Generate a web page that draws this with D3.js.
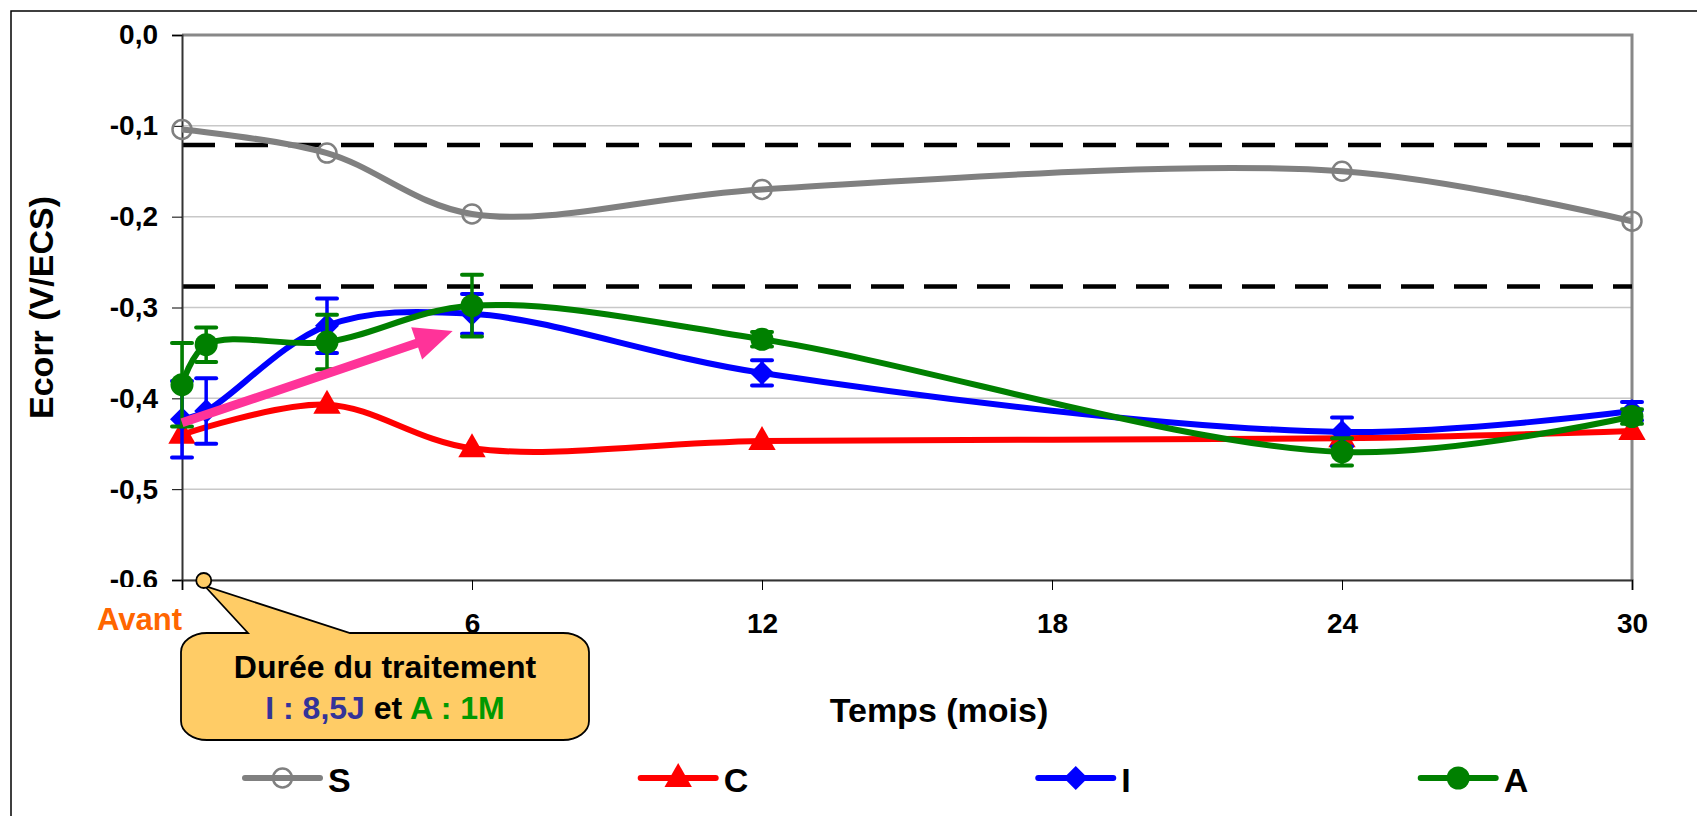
<!DOCTYPE html>
<html>
<head>
<meta charset="utf-8">
<script src="https://cdn.jsdelivr.net/npm/d3@7"></script>
<style>
body { margin: 0; background: #fff; }
text { font-family: "Liberation Sans", Arial, sans-serif; font-weight: bold; }
</style>
</head>
<body>
<svg id="chart"></svg>
<script>
// Months (x) - first point is "Avant"
var monthsIA = [0, 0.5, 3, 6, 12, 24, 30]
var monthsSC = [0, 3, 6, 12, 24, 30]

// Ecorr values (V/ECS)
var sValues = [-0.104, -0.130, -0.197, -0.170, -0.150, -0.205]
var cValues = [-0.440, -0.407, -0.455, -0.447, -0.444, -0.436]
var iValues = [-0.423, -0.414, -0.320, -0.307, -0.372, -0.437, -0.414]
var iErrors = [0.042, 0.036, 0.030, 0.022, 0.014, 0.016, 0.010]
var aValues = [-0.385, -0.341, -0.338, -0.298, -0.335, -0.459, -0.420]
var aErrors = [0.046, 0.019, 0.030, 0.034, 0.008, 0.015, 0.008]

// Reference levels (dashed)
var refLevels = [-0.121, -0.277]

// Ticks
var xTicks = [0, 6, 12, 18, 24, 30]
var yTicks = [0, -0.1, -0.2, -0.3, -0.4, -0.5, -0.6]

// Trend arrow, in data units [month, value]
var arrowFrom = [0, -0.427]
var arrowTo = [5.6, -0.326]

var legendNames = ["S", "C", "I", "A"]

var width = 1697
var height = 816

var svg = d3.select("#chart").attr("width", width).attr("height", height)

var x = d3.scaleLinear().domain([0, 30]).range([182, 1632])
var y = d3.scaleLinear().domain([-0.6, 0]).range([580, 35])

// outer frame (right and bottom fall outside the picture)
svg.append("rect")
    .attr("x", 11).attr("y", 11)
    .attr("width", width + 20).attr("height", height + 20)
    .attr("fill", "none").attr("stroke", "#000").attr("stroke-width", 1.5)

// gridlines
svg.append("g").selectAll("line")
    .data(yTicks)
    .enter().append("line")
    .attr("x1", x(0)).attr("x2", x(30))
    .attr("y1", d => y(d)).attr("y2", d => y(d))
    .style("stroke", "#c8c8c8").style("stroke-width", 1.5)

// plot border top / right
svg.append("path")
    .attr("d", "M" + x(0) + "," + y(0) + "H" + x(30) + "V" + y(-0.6))
    .attr("fill", "none").attr("stroke", "#888").attr("stroke-width", 3)

// dashed reference levels
svg.append("g").selectAll("line")
    .data(refLevels)
    .enter().append("line")
    .attr("x1", x(0)).attr("x2", x(30))
    .attr("y1", d => y(d)).attr("y2", d => y(d))
    .style("stroke", "#000").style("stroke-width", 4.5)
    .style("stroke-dasharray", "33,20")

// axes
var fmt = d => d.toFixed(1).replace(".", ",")
var yAxis = svg.append("g")
    .attr("transform", "translate(" + x(0) + ",0)")
    .call(d3.axisLeft(y).tickValues(yTicks).tickFormat(fmt).tickSize(10).tickPadding(14))
var xAxis = svg.append("g")
    .attr("transform", "translate(0," + y(-0.6) + ")")
    .call(d3.axisBottom(x).tickValues(xTicks).tickFormat(d => d === 0 ? "" : d).tickSize(10).tickPadding(23))

;[yAxis, xAxis].forEach(function(ax) {
    ax.select(".domain").attr("stroke", "#333").attr("stroke-width", 2)
    ax.selectAll(".tick line").attr("stroke", "#000").attr("stroke-width", 1)
    ax.selectAll("text").attr("fill", "#000")
        .style("font-size", "28px")
        .style("font-family", "'Liberation Sans', Arial, sans-serif")
        .style("font-weight", "bold")
})

// "Avant" box hides the lower part of the -0,6 label
svg.append("rect")
    .attr("x", 86).attr("y", 587).attr("width", 94).attr("height", 50)
    .attr("fill", "#fff")
svg.append("text")
    .attr("x", x(0)).attr("y", 630)
    .attr("text-anchor", "end")
    .style("font-size", "31px").attr("fill", "#ff6600")
    .text("Avant")

// axis titles
svg.append("text")
    .attr("transform", "translate(53," + y(-0.3) + ") rotate(-90)")
    .attr("text-anchor", "middle")
    .style("font-size", "34px")
    .text("Ecorr (V/ECS)")
svg.append("text")
    .attr("x", 939).attr("y", 722)
    .attr("text-anchor", "middle")
    .style("font-size", "34px")
    .text("Temps (mois)")

// series
var series = [
    {name: "S", xs: monthsSC, ys: sValues, err: null, color: "#808080", marker: "ring"},
    {name: "C", xs: monthsSC, ys: cValues, err: null, color: "#ff0000", marker: "triangle"},
    {name: "I", xs: monthsIA, ys: iValues, err: iErrors, color: "#0000ff", marker: "diamond"},
    {name: "A", xs: monthsIA, ys: aValues, err: aErrors, color: "#008000", marker: "circle"}
]

var line = d3.line()
    .x(d => x(d[0]))
    .y(d => y(d[1]))
    .curve(d3.curveCatmullRom.alpha(0.5))

function drawMarker(g, type, color) {
    if (type === "ring") {
        g.append("circle").attr("r", 9.5).attr("fill", "none")
            .attr("stroke", color).attr("stroke-width", 2.5)
    } else if (type === "triangle") {
        g.append("path").attr("d", d3.symbol(d3.symbolTriangle, 300)())
            .attr("transform", "translate(0,1) scale(1.04,1.05)")
            .attr("fill", color)
    } else if (type === "diamond") {
        g.append("path").attr("d", "M0,-12L12,0L0,12L-12,0Z").attr("fill", color)
    } else {
        g.append("circle").attr("r", 11.5).attr("fill", color)
    }
}

series.forEach(function(s) {
    var pts = s.xs.map((m, i) => [m, s.ys[i]])
    var g = svg.append("g").attr("class", "series-" + s.name)

    g.append("path")
        .attr("d", line(pts))
        .attr("fill", "none")
        .attr("stroke", s.color)
        .attr("stroke-width", 6)
        .attr("stroke-linejoin", "round")

    if (s.err) {
        var eb = g.selectAll(".err").data(pts.map((p, i) => [p[0], p[1], s.err[i]]))
            .enter().append("g").attr("class", "err")
        eb.append("line")
            .attr("x1", d => x(d[0])).attr("x2", d => x(d[0]))
            .attr("y1", d => y(d[1] + d[2])).attr("y2", d => y(d[1] - d[2]))
            .attr("stroke", s.color).attr("stroke-width", 3.5)
        ;[1, -1].forEach(function(sign) {
            eb.append("line")
                .attr("x1", d => x(d[0]) - 10).attr("x2", d => x(d[0]) + 10)
                .attr("y1", d => y(d[1] + sign * d[2])).attr("y2", d => y(d[1] + sign * d[2]))
                .attr("stroke", s.color).attr("stroke-width", 4)
                .attr("stroke-linecap", "round")
        })
    }

    g.selectAll(".mk").data(pts)
        .enter().append("g").attr("class", "mk")
        .attr("transform", d => "translate(" + x(d[0]) + "," + y(d[1]) + ")")
        .each(function() { drawMarker(d3.select(this), s.marker, s.color) })
})

// pink trend arrow
;(function() {
    var x0 = x(arrowFrom[0]), y0 = y(arrowFrom[1])
    var x1 = x(arrowTo[0]), y1 = y(arrowTo[1])
    var dx = x1 - x0, dy = y1 - y0
    var len = Math.sqrt(dx * dx + dy * dy)
    var ux = dx / len, uy = dy / len
    var nx = -uy, ny = ux
    var headLen = 38, headW = 17, shaftW = 4.5
    var bx = x1 - ux * headLen, by = y1 - uy * headLen
    var p = [
        [x0 + nx * shaftW, y0 + ny * shaftW],
        [bx + nx * shaftW, by + ny * shaftW],
        [bx + nx * headW, by + ny * headW],
        [x1, y1],
        [bx - nx * headW, by - ny * headW],
        [bx - nx * shaftW, by - ny * shaftW],
        [x0 - nx * shaftW, y0 - ny * shaftW]
    ]
    svg.append("path")
        .attr("d", "M" + p.map(q => q.join(",")).join("L") + "Z")
        .attr("fill", "#ff3399")
})()

// callout "Durée du traitement"
;(function() {
    var bx0 = 181, bx1 = 589, by0 = 633, by1 = 740, rx = 26, ry = 19
    var tipX = x(0.47), tipY = y(-0.6) + 6
    var d = "M" + (bx0 + rx) + "," + by0 +
        "L248," + by0 +
        "L" + tipX + "," + tipY +
        "L350," + by0 +
        "L" + (bx1 - rx) + "," + by0 +
        "A" + rx + "," + ry + " 0 0 1 " + bx1 + "," + (by0 + ry) +
        "L" + bx1 + "," + (by1 - ry) +
        "A" + rx + "," + ry + " 0 0 1 " + (bx1 - rx) + "," + by1 +
        "L" + (bx0 + rx) + "," + by1 +
        "A" + rx + "," + ry + " 0 0 1 " + bx0 + "," + (by1 - ry) +
        "L" + bx0 + "," + (by0 + ry) +
        "A" + rx + "," + ry + " 0 0 1 " + (bx0 + rx) + "," + by0 + "Z"
    svg.append("path").attr("d", d)
        .attr("fill", "#ffcc66").attr("stroke", "#000").attr("stroke-width", 1.8)
    svg.append("circle")
        .attr("cx", x(0.45)).attr("cy", y(-0.6) + 0.5).attr("r", 7.5)
        .attr("fill", "#ffcc66").attr("stroke", "#000").attr("stroke-width", 1.8)

    var cx = (bx0 + bx1) / 2
    svg.append("text").attr("x", cx).attr("y", 678)
        .attr("text-anchor", "middle").style("font-size", "32px")
        .text("Durée du traitement")
    var t2 = svg.append("text").attr("x", cx).attr("y", 719)
        .attr("text-anchor", "middle").style("font-size", "32px")
    t2.append("tspan").attr("fill", "#333399").text("I : 8,5J")
    t2.append("tspan").attr("fill", "#000").text(" et ")
    t2.append("tspan").attr("fill", "#009900").text("A : 1M")
})()

// legend, laid out one after the other
var legendY = 778
var lx = 245
series.forEach(function(s, i) {
    var g = svg.append("g")
    g.append("line")
        .attr("x1", lx).attr("x2", lx + 75)
        .attr("y1", legendY).attr("y2", legendY)
        .attr("stroke", s.color).attr("stroke-width", 6)
        .attr("stroke-linecap", "round")
    var mg = g.append("g").attr("transform", "translate(" + (lx + 37.5) + "," + legendY + ")")
    drawMarker(mg, s.marker, s.color)
    var t = g.append("text")
        .attr("x", lx + 83).attr("y", 792)
        .style("font-size", "34px")
        .text(legendNames[i])
    lx = lx + 83 + t.node().getComputedTextLength() + 290
})
</script>
</body>
</html>
